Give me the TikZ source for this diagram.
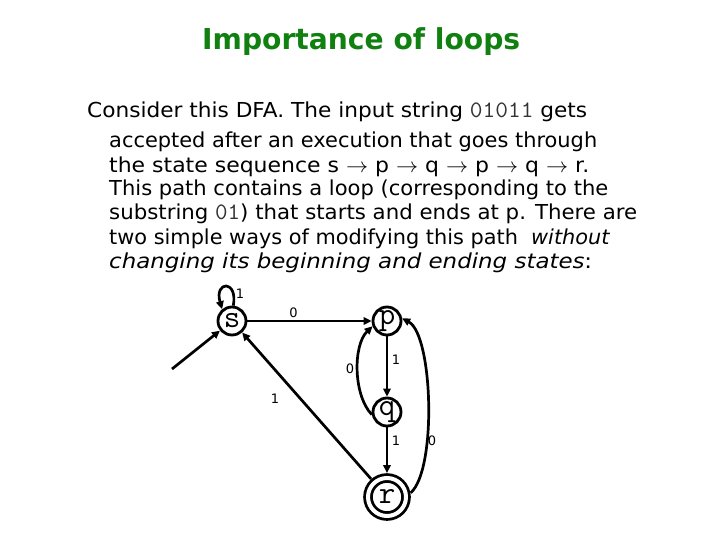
\documentclass[tikz,border=0pt]{standalone}
\usepackage{fontspec}
\usepackage{graphicx}
\setmainfont{DejaVu Sans}
\usetikzlibrary{arrows.meta}
\definecolor{titlegreen}{RGB}{16,128,16}
\newcommand\fitw[2]{\resizebox{#1}{\height}{#2}}
\newcommand\codetxt[1]{{\ttfamily\fontsize{23.5}{24}\selectfont\color{black!80}#1}}
\tikzset{
  txt/.style={anchor=base west, inner sep=0pt, font=\fontsize{20.6}{24}\selectfont},
  state/.style={circle, draw, line width=2.8pt, minimum size=28pt, inner sep=0pt,
    font=\ttfamily\fontsize{32}{32}\selectfont},
  accept/.style={state, double, double distance=4pt, minimum size=38pt, outer sep=5pt},
  edge/.style={line width=2.7pt, -{Triangle[length=8pt,width=7.5pt]}},
  lbl/.style={inner sep=0pt, font=\fontsize{13}{13}\selectfont}
}
\begin{document}
\begin{tikzpicture}[x=1pt,y=-1pt]
\useasboundingbox[fill=white] (0,0) rectangle (721,541);
% title
\node[anchor=base west, inner sep=0pt, text=titlegreen,
  font=\fontsize{28.8}{30}\selectfont\bfseries] (title) at (202,49)
  {\fitw{318pt}{Importance of loops}};
% text
\node[txt] (l1) at (87,117) {\fitw{500pt}{Consider this DFA. The input string \codetxt{01011} gets}};
\node[txt] (l2) at (109,147) {\fitw{488pt}{accepted after an execution that goes through}};
\node[txt] (l3) at (109,172) {\fitw{480pt}{the state sequence s $\rightarrow$ p $\rightarrow$ q $\rightarrow$ p $\rightarrow$ q $\rightarrow$ r.}};
\node[txt] (l4) at (109,195) {\fitw{499pt}{This path contains a loop (corresponding to the}};
\node[txt] (l5) at (109,219) {\fitw{528pt}{substring \codetxt{01}) that starts and ends at p. There are}};
\node[txt] (l6) at (109,244) {\fitw{501pt}{two simple ways of modifying this path \ \textit{without}}};
\node[txt] (l7) at (109,268) {\fitw{483pt}{\textit{changing its beginning and ending states}:}};
% states
\node[state] (s) at (232,321) {s};
\node[state] (p) at (387,321) {p};
\node[state] (q) at (387,412) {q};
\node[accept] (r) at (387,497) {r};
\coordinate (start) at (172,369);
% edges
\draw[edge] (start) -- (s);
\draw[edge] (s.85) .. controls (238,279) and (214,281) .. (s.130);
\draw[edge] (s) -- (p);
\draw[edge] (p) -- (q);
\draw[edge] (q) -- (r);
\draw[edge] (q.190) .. controls (353,395) and (353,345) .. (p.200);
\draw[edge] (r.10) .. controls (437,470) and (433,335) .. (p.10);
\draw[edge] (r) -- (s);
% labels
\node[lbl] (ls) at (240,294) {1};
\node[lbl] (lsp) at (293.5,312.5) {0};
\node[lbl] (lpq) at (396,360) {1};
\node[lbl] (lqp) at (350,369) {0};
\node[lbl] (lrs) at (275,399) {1};
\node[lbl] (lqr) at (396,441) {1};
\node[lbl] (lrp) at (432,441) {0};
\end{tikzpicture}
\end{document}
